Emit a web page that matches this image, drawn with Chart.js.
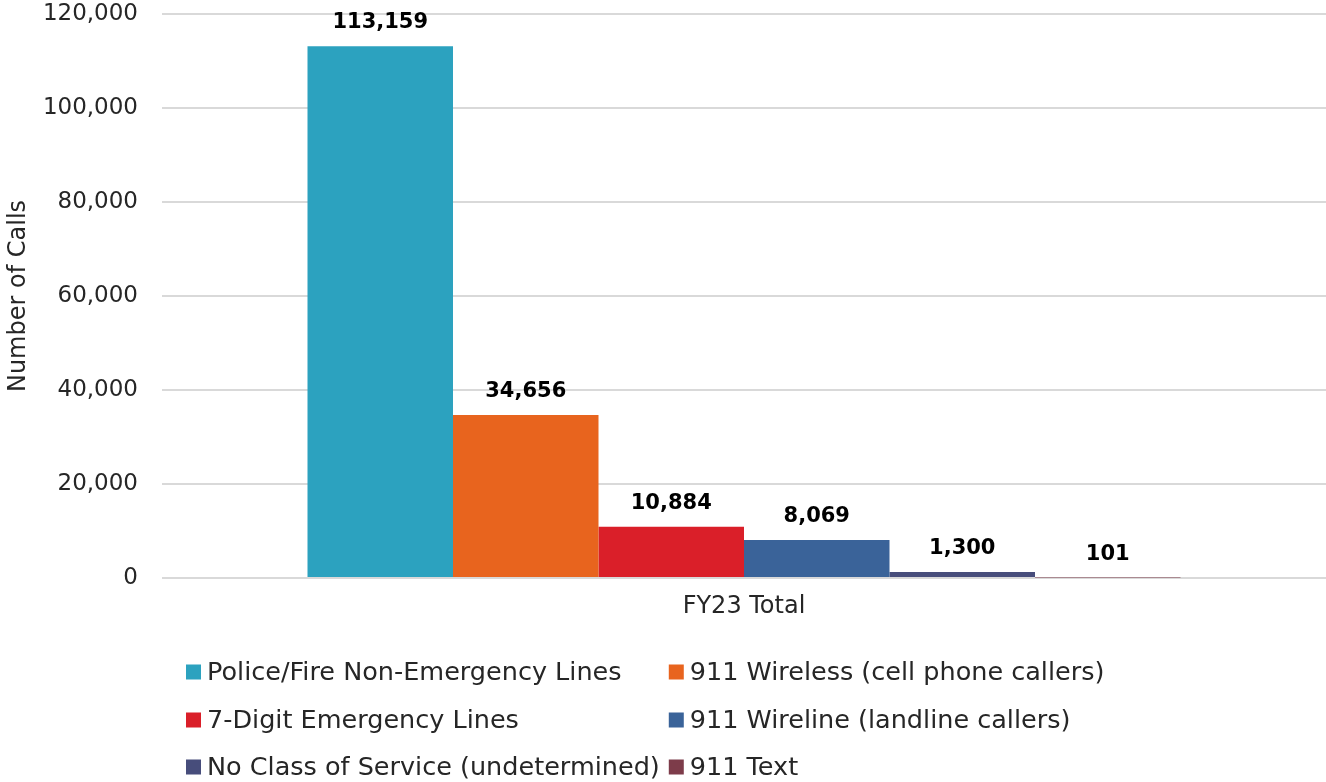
<!DOCTYPE html>
<html>
<head>
<meta charset="utf-8">
<script src="https://cdn.jsdelivr.net/npm/chart.js@4.4.1/dist/chart.umd.min.js"></script>
<style>
html,body{margin:0;padding:0;background:#fff;}
#wrap{width:1326px;height:782px;position:relative;}
</style>
</head>
<body>
<div id="wrap"><canvas id="c" width="1326" height="782"></canvas></div>
<script>
const categories = ["FY23 Total"];
const seriesNames = [
  "Police/Fire Non-Emergency Lines",
  "911 Wireless (cell phone callers)",
  "7-Digit Emergency Lines",
  "911 Wireline (landline callers)",
  "No Class of Service (undetermined)",
  "911 Text"
];
const seriesValues = [113159, 34656, 10884, 8069, 1300, 101];
const seriesColors = ["#2CA2BF", "#E8641E", "#DA1F29", "#3A6399", "#474D7B", "#7D3C4A"];
const yTicks = [0, 20000, 40000, 60000, 80000, 100000, 120000];

const FONT = "'DejaVu Sans', sans-serif";
const fmt = v => v.toLocaleString('en-US');

const datasets = seriesNames.map((n, i) => ({
  label: n,
  data: [seriesValues[i]],
  backgroundColor: seriesColors[i],
  borderWidth: 0,
  categoryPercentage: 0.75,
  barPercentage: 1.0
}));

const labelPlugin = {
  id: 'valueLabels',
  afterDatasetsDraw(chart) {
    const ctx = chart.ctx;
    ctx.save();
    ctx.font = "bold 21px " + FONT;
    ctx.fillStyle = "#000";
    ctx.textAlign = "center";
    ctx.textBaseline = "alphabetic";
    chart.data.datasets.forEach((ds, i) => {
      const meta = chart.getDatasetMeta(i);
      meta.data.forEach((bar, j) => {
        ctx.fillText(fmt(ds.data[j]), bar.x, bar.y - 18);
      });
    });
    ctx.restore();
  }
};

const legendPlugin = {
  id: 'gridLegend',
  afterDraw(chart) {
    const ctx = chart.ctx;
    ctx.save();
    ctx.font = "25.5px " + FONT;
    ctx.textBaseline = "middle";
    ctx.textAlign = "left";
    const ds = chart.data.datasets;
    const box = 15, gap = 6;
    const left = 186;
    let col1w = 0;
    ds.forEach((d, i) => { if (i % 2 === 0) col1w = Math.max(col1w, ctx.measureText(d.label).width); });
    const col2x = left + box + gap + col1w + 9;
    const rowY = [672, 720, 767];
    ds.forEach((d, i) => {
      const x = i % 2 === 0 ? left : col2x;
      const y = rowY[Math.floor(i / 2)];
      ctx.fillStyle = d.backgroundColor;
      ctx.fillRect(x, y - box / 2, box, box);
      ctx.fillStyle = "#262626";
      ctx.fillText(d.label, x + box + gap, y + 1);
    });
    ctx.restore();
  }
};

new Chart(document.getElementById('c'), {
  type: 'bar',
  data: { labels: categories, datasets },
  options: {
    responsive: false,
    animation: false,
    layout: { padding: { top: 14, right: 0, bottom: 0, left: 0 } },
    plugins: { legend: { display: false }, tooltip: { enabled: false } },
    scales: {
      x: {
        grid: { display: false },
        border: { display: false },
        ticks: { color: "#262626", font: { family: FONT, size: 24 }, padding: 6 },
        afterFit(s) { s.height = 204; s.paddingLeft = 0; s.paddingRight = 0; }
      },
      y: {
        min: 0, max: 120000,
        afterBuildTicks(s) { s.ticks = yTicks.map(v => ({ value: v })); },
        grid: { color: "#D9D9D9", lineWidth: 2, drawTicks: false },
        border: { display: false },
        ticks: { color: "#262626", font: { family: FONT, size: 23 }, padding: 24, callback: v => fmt(v) },
        title: { display: true, text: "Number of Calls", color: "#262626", font: { family: FONT, size: 24 }, padding: { top: 4, bottom: 0 } },
        afterFit(s) { s.width = 162; s.paddingTop = 0; s.paddingBottom = 0; }
      }
    }
  },
  plugins: [labelPlugin, legendPlugin]
});
</script>
</body>
</html>
